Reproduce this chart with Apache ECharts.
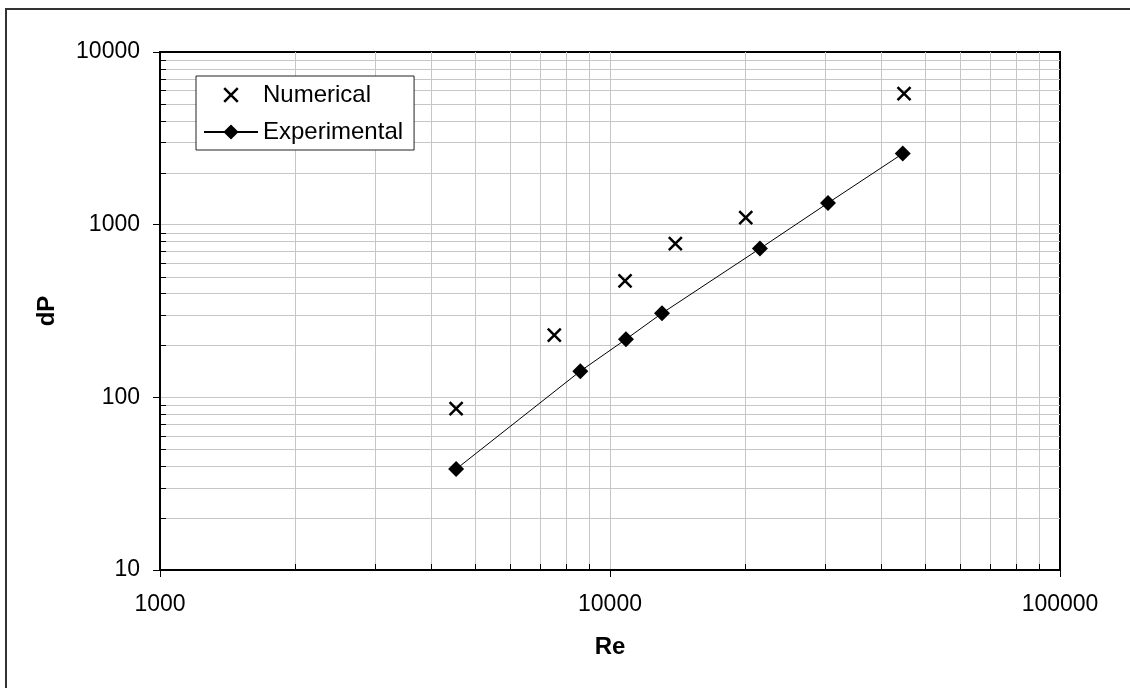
<!DOCTYPE html>
<html>
<head>
<meta charset="utf-8">
<script src="https://cdn.jsdelivr.net/npm/echarts@6/dist/echarts.min.js"></script>
<style>
html,body{margin:0;padding:0;background:#fff;}
#c{width:1130px;height:688px;}
</style>
</head>
<body>
<div id="c"></div>
<script>
// ---- data ----
const reNumerical = [4550, 7520, 10800, 13970, 20030, 45020];
const dpNumerical = [86, 229, 472, 777, 1099, 5740];
const reExperimental = [4550, 8590, 10850, 13050, 21540, 30510, 44720];
const dpExperimental = [38.4, 141.8, 217, 307, 727, 1335, 2579];

const xTickLabels = [1000, 10000, 100000];
const yTickLabels = [10, 100, 1000, 10000];
const minorMultipliers = [2, 3, 4, 5, 6, 7, 8, 9];
const xDecades = [1000, 10000];
const yDecades = [10, 100, 1000];

const X_MIN = 1000, X_MAX = 100000, Y_MIN = 10, Y_MAX = 10000;

const xMinor = [];
xDecades.forEach(d => minorMultipliers.forEach(m => xMinor.push([m * d, Y_MIN])));
const yMinor = [];
yDecades.forEach(d => minorMultipliers.forEach(m => yMinor.push([X_MIN, m * d])));

const numData = reNumerical.map((x, i) => [x, dpNumerical[i]]);
const expData = reExperimental.map((x, i) => [x, dpExperimental[i]]);

const FONT = "'Liberation Sans', Arial, sans-serif";
const GRID_COLOR = '#c6c6c6';
const crossPath = 'path://M0,0L10,10M10,0L0,10';
const crossLegendPath = 'path://M-2,-2L-2,-2M0,0L10,10M10,0L0,10M12,12L12,12';

function snap(v) { return Math.round(v) + 0.5; }

const chart = echarts.init(document.getElementById('c'), null, {renderer: 'canvas'});
chart.setOption({
  animation: false,
  backgroundColor: '#fff',
  textStyle: {fontFamily: FONT},
  graphic: [{
    type: 'rect',
    shape: {x: 6, y: 9, width: 1300, height: 900},
    style: {fill: 'none', stroke: '#333', lineWidth: 2},
    z: 0, silent: true
  }],
  grid: {
    left: 160, right: 70, top: 52, bottom: 118,
    show: true, borderColor: '#000', borderWidth: 2, backgroundColor: '#fff'
  },
  legend: {
    left: 196, top: 76,
    orient: 'vertical',
    backgroundColor: '#fff',
    borderColor: '#222', borderWidth: 1,
    padding: [7, 11, 6, 7],
    itemWidth: 54, itemHeight: 19, itemGap: 13,
    textStyle: {fontSize: 24, color: '#000', fontFamily: FONT, lineHeight: 24},
    data: [
      {name: 'Numerical', icon: crossLegendPath,
        itemStyle: {color: 'none', borderColor: '#000', borderWidth: 2.5, opacity: 1}},
      {name: 'Experimental'}
    ],
    z: 10
  },
  xAxis: {
    type: 'log', logBase: 10, min: X_MIN, max: X_MAX,
    name: 'Re', nameLocation: 'middle', nameGap: 65,
    nameTextStyle: {fontSize: 24, fontWeight: 'bold', color: '#000', fontFamily: FONT},
    axisLine: {show: true, onZero: false, lineStyle: {color: '#000', width: 2}},
    axisTick: {show: true, inside: false, length: 7, lineStyle: {color: '#000', width: 1}},
    axisLabel: {fontSize: 23, color: '#000', margin: 23, fontFamily: FONT,
      formatter: v => String(Math.round(v))},
    splitLine: {show: true, showMinLine: false, showMaxLine: false, lineStyle: {color: GRID_COLOR, width: 1}},
    minorTick: {show: false}, minorSplitLine: {show: false}
  },
  yAxis: {
    type: 'log', logBase: 10, min: Y_MIN, max: Y_MAX,
    name: 'dP', nameLocation: 'middle', nameGap: 101, nameRotate: 90,
    nameTextStyle: {fontSize: 24, fontWeight: 'bold', color: '#000', fontFamily: FONT},
    axisLine: {show: true, onZero: false, lineStyle: {color: '#000', width: 2}},
    axisTick: {show: true, inside: false, length: 7, lineStyle: {color: '#000', width: 1}},
    axisLabel: {fontSize: 23, color: '#000', margin: 20, fontFamily: FONT,
      formatter: v => String(Math.round(v))},
    splitLine: {show: true, showMinLine: false, showMaxLine: false, lineStyle: {color: GRID_COLOR, width: 1}},
    minorTick: {show: false}, minorSplitLine: {show: false}
  },
  series: [
    {
      name: 'xMinorGrid', type: 'custom', z: 1, silent: true,
      data: xMinor,
      renderItem: (params, api) => {
        const v = api.value(0);
        const p0 = api.coord([v, Y_MIN]);
        const p1 = api.coord([v, Y_MAX]);
        const x = snap(p0[0]);
        return {type: 'group', children: [
          {type: 'line', shape: {x1: x, y1: p0[1], x2: x, y2: p1[1]}, style: {stroke: GRID_COLOR, lineWidth: 1}},
          {type: 'line', shape: {x1: x, y1: p0[1], x2: x, y2: p0[1] - 6}, style: {stroke: '#000', lineWidth: 1}}
        ]};
      }
    },
    {
      name: 'yMinorGrid', type: 'custom', z: 1, silent: true,
      data: yMinor,
      renderItem: (params, api) => {
        const v = api.value(1);
        const p0 = api.coord([X_MIN, v]);
        const p1 = api.coord([X_MAX, v]);
        const y = snap(p0[1]);
        return {type: 'group', children: [
          {type: 'line', shape: {x1: p0[0], y1: y, x2: p1[0], y2: y}, style: {stroke: GRID_COLOR, lineWidth: 1}},
          {type: 'line', shape: {x1: p0[0], y1: y, x2: p0[0] + 6, y2: y}, style: {stroke: '#000', lineWidth: 1}}
        ]};
      }
    },
    {
      name: 'Numerical', type: 'scatter', z: 5,
      symbol: crossPath, symbolSize: 13,
      itemStyle: {color: 'none', borderColor: '#000', borderWidth: 2.5, opacity: 1},
      data: numData
    },
    {
      name: 'Experimental', type: 'line', z: 5,
      symbol: 'diamond', symbolSize: 16, showAllSymbol: true,
      lineStyle: {color: '#000', width: 1},
      itemStyle: {color: '#000', borderColor: '#000', borderWidth: 0},
      data: expData
    }
  ]
});
</script>
</body>
</html>
